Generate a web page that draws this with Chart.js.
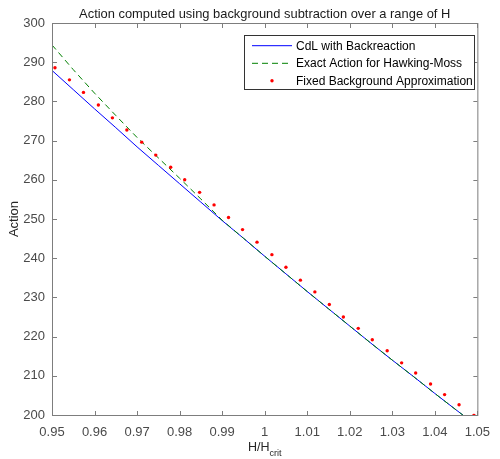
<!DOCTYPE html>
<html><head><meta charset="utf-8">
<script src="https://cdn.jsdelivr.net/npm/chart.js@4"></script>
<style>html,body{margin:0;padding:0;background:#fff}</style>
</head><body>
<canvas id="c" width="500" height="459" style="width:500px;height:459px;display:block"></canvas>
<script>
const titleText = 'Action computed using background subtraction over a range of H';
const yLabel = 'Action';
const seriesNames = ['CdL with Backreaction', 'Exact Action for Hawking-Moss', 'Fixed Background Approximation'];

const lineH = [0.95,0.955,0.96,0.965,0.97,0.975,0.98,0.985,0.99,0.995,1.0,1.005,1.01,1.015,1.02,1.025,1.03,1.035,1.04,1.045,1.05];
const cdlAction = [287.9,283.0,278.1,273.3,268.4,263.7,259.0,254.3,249.6,245.1,240.5,236.0,231.5,227.1,222.7,218.3,214.0,209.8,205.5,201.3,197.2];
const exactAction = [294.4,288.1,282.1,276.4,270.8,265.6,260.4,255.1,249.7,245.1,240.5,236.0,231.5,227.1,222.7,218.3,214.0,209.8,205.5,201.3,197.2];

const fixedH = [0.9507,0.9541,0.9574,0.9609,0.9642,0.9676,0.9711,0.9744,0.9779,0.9812,0.9847,0.9881,0.9915,0.9948,0.9982,1.0017,1.0050,1.0084,1.0118,1.0152,1.0185,1.0220,1.0253,1.0288,1.0322,1.0355,1.0390,1.0423,1.0457,1.0492];
const fixedAction = [288.6,285.5,282.3,279.1,275.8,272.7,269.6,266.3,263.2,260.0,256.8,253.6,250.4,247.3,244.1,240.9,237.7,234.4,231.4,228.2,225.0,222.1,219.2,216.4,213.3,210.7,207.9,205.2,202.6,199.9];

const xTicks = [0.95,0.96,0.97,0.98,0.99,1.0,1.01,1.02,1.03,1.04,1.05];
const yTicks = [200,210,220,230,240,250,260,270,280,290,300];

const FONT = '"Liberation Sans", Arial, Helvetica, sans-serif';
const pts = (xs, ys) => xs.map((v, i) => ({x: v, y: ys[i]}));

const decor = {
  id: 'decor',
  afterDraw(chart) {
    const {ctx, chartArea: a, scales: {x, y}} = chart;
    ctx.save();
    // box
    ctx.strokeStyle = '#7d7d7d';
    ctx.lineWidth = 1;
    ctx.strokeRect(a.left + 0.5, a.top + 0.5, a.right - a.left, a.bottom - a.top);
    // inward ticks
    ctx.beginPath();
    for (const v of xTicks) {
      const px = Math.round(x.getPixelForValue(v)) + 0.5;
      ctx.moveTo(px, a.bottom); ctx.lineTo(px, a.bottom - 4);
      ctx.moveTo(px, a.top + 1); ctx.lineTo(px, a.top + 5);
    }
    for (const v of yTicks) {
      const py = Math.round(y.getPixelForValue(v)) + 0.5;
      ctx.moveTo(a.left + 1, py); ctx.lineTo(a.left + 5, py);
      ctx.moveTo(a.right, py); ctx.lineTo(a.right - 4, py);
    }
    ctx.stroke();

    // title
    const cx = (a.left + a.right) / 2;
    ctx.fillStyle = '#1a1a1a';
    ctx.font = '12.9px ' + FONT;
    ctx.textAlign = 'center';
    ctx.textBaseline = 'middle';
    ctx.fillText(titleText, cx, 14);

    // y label
    ctx.save();
    ctx.translate(14, (a.top + a.bottom) / 2);
    ctx.rotate(-Math.PI / 2);
    ctx.fillStyle = '#262626';
    ctx.font = '13px ' + FONT;
    ctx.fillText(yLabel, 0, 0);
    ctx.restore();

    // x label H/H_crit
    ctx.font = '12.5px ' + FONT;
    const main = 'H/H';
    const wMain = ctx.measureText(main).width;
    ctx.font = '9px ' + FONT;
    const sub = 'crit';
    const wSub = ctx.measureText(sub).width;
    const startX = cx - (wMain + wSub) / 2;
    ctx.textAlign = 'left';
    ctx.fillStyle = '#262626';
    ctx.font = '12.5px ' + FONT;
    ctx.fillText(main, startX, 448);
    ctx.font = '9px ' + FONT;
    ctx.fillText(sub, startX + wMain, 454);

    // legend
    const lx = 244.5, ly = 35.5, lw = 230, lh = 54;
    ctx.fillStyle = '#ffffff';
    ctx.fillRect(lx, ly, lw, lh);
    ctx.strokeStyle = '#333333';
    ctx.lineWidth = 1;
    ctx.strokeRect(lx, ly, lw, lh);
    const rows = [45.7, 63.3, 80.7];
    const x0 = 252, x1 = 292, tx = 296;
    ctx.strokeStyle = '#0000ff';
    ctx.beginPath(); ctx.moveTo(x0, rows[0]); ctx.lineTo(x1, rows[0]); ctx.stroke();
    ctx.strokeStyle = '#008000';
    ctx.setLineDash([6, 4]);
    ctx.beginPath(); ctx.moveTo(x0, rows[1]); ctx.lineTo(x1, rows[1]); ctx.stroke();
    ctx.setLineDash([]);
    ctx.fillStyle = '#ff0000';
    ctx.beginPath(); ctx.arc((x0 + x1) / 2, rows[2], 1.7, 0, Math.PI * 2); ctx.fill();
    ctx.fillStyle = '#000000';
    ctx.font = '12px ' + FONT;
    ctx.textBaseline = 'middle';
    seriesNames.forEach((s, i) => ctx.fillText(s, tx, rows[i] + 0.5));
    ctx.restore();
  }
};

new Chart(document.getElementById('c'), {
  type: 'scatter',
  data: {
    datasets: [
      {label: seriesNames[2], data: pts(fixedH, fixedAction), showLine: false,
       pointRadius: 1.7, pointBorderWidth: 0, pointBackgroundColor: '#ff0000', order: 0},
      {label: seriesNames[1], data: pts(lineH, exactAction), showLine: true, pointRadius: 0,
       borderColor: '#008000', borderWidth: 1, borderDash: [6, 4], order: 1},
      {label: seriesNames[0], data: pts(lineH, cdlAction), showLine: true, pointRadius: 0,
       borderColor: '#0000ff', borderWidth: 1, order: 2}
    ]
  },
  options: {
    responsive: false,
    devicePixelRatio: 1,
    animation: false,
    layout: {padding: {top: 23, right: 13, left: 0, bottom: 0}},
    plugins: {legend: {display: false}, tooltip: {enabled: false}, title: {display: false}},
    scales: {
      x: {
        type: 'linear', min: 0.95, max: 1.05,
        afterBuildTicks: s => { s.ticks = xTicks.map(v => ({value: v})); },
        afterFit: s => { s.height = 44; },
        grid: {display: false, drawTicks: false}, border: {display: false},
        ticks: {padding: 10, color: '#4a4a4a', font: {family: FONT, size: 13},
                maxRotation: 0, autoSkip: false,
                callback: v => String(Number(v.toFixed(2)))}
      },
      y: {
        type: 'linear', min: 200, max: 300,
        afterBuildTicks: s => { s.ticks = yTicks.map(v => ({value: v})); },
        afterFit: s => { s.width = 52; },
        grid: {display: false, drawTicks: false}, border: {display: false},
        ticks: {padding: 7, color: '#4a4a4a', font: {family: FONT, size: 13},
                callback: v => String(v)}
      }
    }
  },
  plugins: [decor]
});
</script>
</body></html>
